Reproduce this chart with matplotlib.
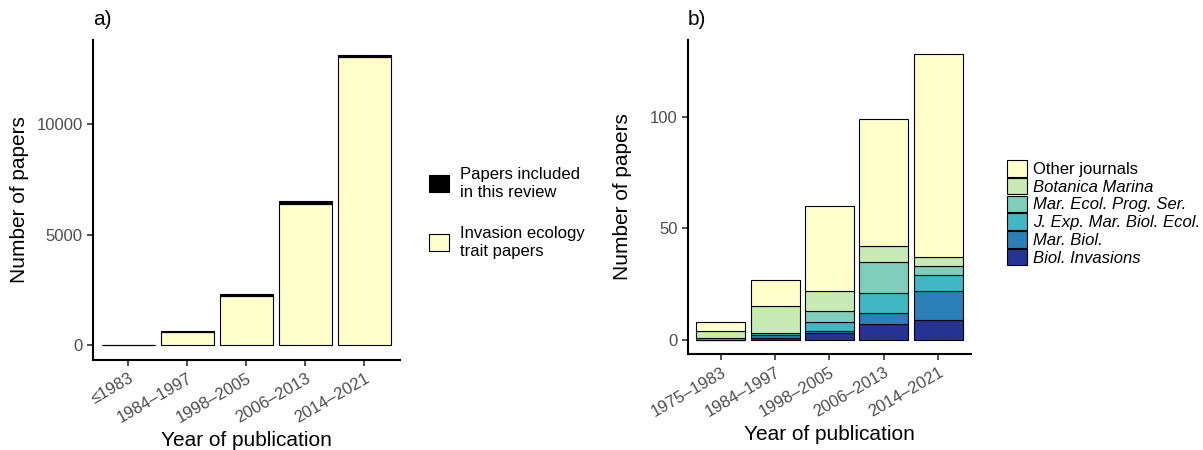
"""
Two panel bar chart: invasion ecology trait papers vs papers included in this review,
and the journals of the included papers.
"""

import matplotlib
matplotlib.use('Agg')
from matplotlib import pyplot
from matplotlib.patches import Patch

# panel a
periods_a = ['≤1983', '1984–1997', '1998–2005', '2006–2013', '2014–2021']
trait_papers = [0, 620, 2240, 6400, 13000]
included_papers = [8, 27, 60, 99, 128]

# panel b
periods_b = ['1975–1983', '1984–1997', '1998–2005', '2006–2013', '2014–2021']
journals = ['Biol. Invasions', 'Mar. Biol.', 'J. Exp. Mar. Biol. Ecol.',
            'Mar. Ecol. Prog. Ser.', 'Botanica Marina', 'Other journals']
journal_counts = {
    'Biol. Invasions': [0, 1, 3, 7, 9],
    'Mar. Biol.': [0, 1, 1, 5, 13],
    'J. Exp. Mar. Biol. Ecol.': [1, 1, 4, 9, 7],
    'Mar. Ecol. Prog. Ser.': [0, 0, 5, 14, 4],
    'Botanica Marina': [3, 12, 9, 7, 4],
    'Other journals': [4, 12, 38, 57, 91],
}
journal_colours = ['#253494', '#2c7fb8', '#41b6c4', '#7fcdbb', '#c7e9b4', '#ffffcc']

TICK_GREY = '#4d4d4d'
BAR_WIDTH = 0.9

pyplot.rcParams['font.family'] = ['Liberation Sans', 'DejaVu Sans']


def style_axis(ax, labels):
    x = range(1, len(labels) + 1)
    ax.set_xlim(0.4, len(labels) + 0.6)
    ax.set_xticks(list(x))
    ax.set_xticklabels(labels, rotation=30, ha='right', rotation_mode='anchor',
                       color=TICK_GREY, fontsize=12)
    ax.tick_params(axis='y', labelcolor=TICK_GREY, labelsize=12)
    ax.tick_params(length=4, width=1.2, color='#333333')
    for side in ('top', 'right'):
        ax.spines[side].set_visible(False)
    for side in ('left', 'bottom'):
        ax.spines[side].set_linewidth(1.5)
    ax.set_xlabel('Year of publication', fontsize=15)
    ax.set_ylabel('Number of papers', fontsize=15)


fig = pyplot.figure(figsize=(12.03, 4.5), dpi=100)
ax_a = fig.add_axes([0.0773, 0.2, 0.255, 0.711])
ax_b = fig.add_axes([0.572, 0.2133, 0.235, 0.6977])

# panel a
x_a = list(range(1, len(periods_a) + 1))
ax_a.bar(x_a, trait_papers, width=BAR_WIDTH, color='#ffffcc', edgecolor='black', lw=0.8)
ax_a.bar(x_a, included_papers, bottom=trait_papers, width=BAR_WIDTH,
         color='black', edgecolor='black', lw=0.8)
top_a = max(t + i for t, i in zip(trait_papers, included_papers))
ax_a.set_ylim(-0.05 * top_a, 1.05 * top_a)
ax_a.set_yticks([0, 5000, 10000])
style_axis(ax_a, periods_a)
ax_a.yaxis.set_label_coords(-0.21, 0.5)
fig.text(0.077, 0.935, 'a)', fontsize=15, ha='left', va='bottom')

handles_a = [Patch(facecolor='black', edgecolor='black', lw=0.8),
             Patch(facecolor='#ffffcc', edgecolor='black', lw=0.8)]
fig.legend(handles_a, ['Papers included\nin this review', 'Invasion ecology\ntrait papers'],
           loc='center left', bbox_to_anchor=(0.344, 0.527), frameon=False,
           fontsize=12, handlelength=1.2, handleheight=1.2, labelspacing=1.6,
           handletextpad=0.7)

# panel b
x_b = list(range(1, len(periods_b) + 1))
bottom = [0] * len(periods_b)
for name, colour in zip(journals, journal_colours):
    values = journal_counts[name]
    ax_b.bar(x_b, values, bottom=bottom, width=BAR_WIDTH, color=colour,
             edgecolor='black', lw=0.8)
    bottom = [b + v for b, v in zip(bottom, values)]
top_b = max(bottom)
ax_b.set_ylim(-0.05 * top_b, 1.05 * top_b)
ax_b.set_yticks([0, 50, 100])
style_axis(ax_b, periods_b)
ax_b.yaxis.set_label_coords(-0.2, 0.5)
fig.text(0.572, 0.935, 'b)', fontsize=15, ha='left', va='bottom')

handles_b = [Patch(facecolor=c, edgecolor='black', lw=0.8) for c in journal_colours][::-1]
leg_b = fig.legend(handles_b, journals[::-1], loc='center left',
                   bbox_to_anchor=(0.825, 0.527), frameon=False, fontsize=12,
                   handlelength=1.2, handleheight=1.15, labelspacing=0.05,
                   handletextpad=0.35)
for text in leg_b.get_texts()[1:]:
    text.set_fontstyle('italic')

fig.savefig('out.png', dpi=100)
